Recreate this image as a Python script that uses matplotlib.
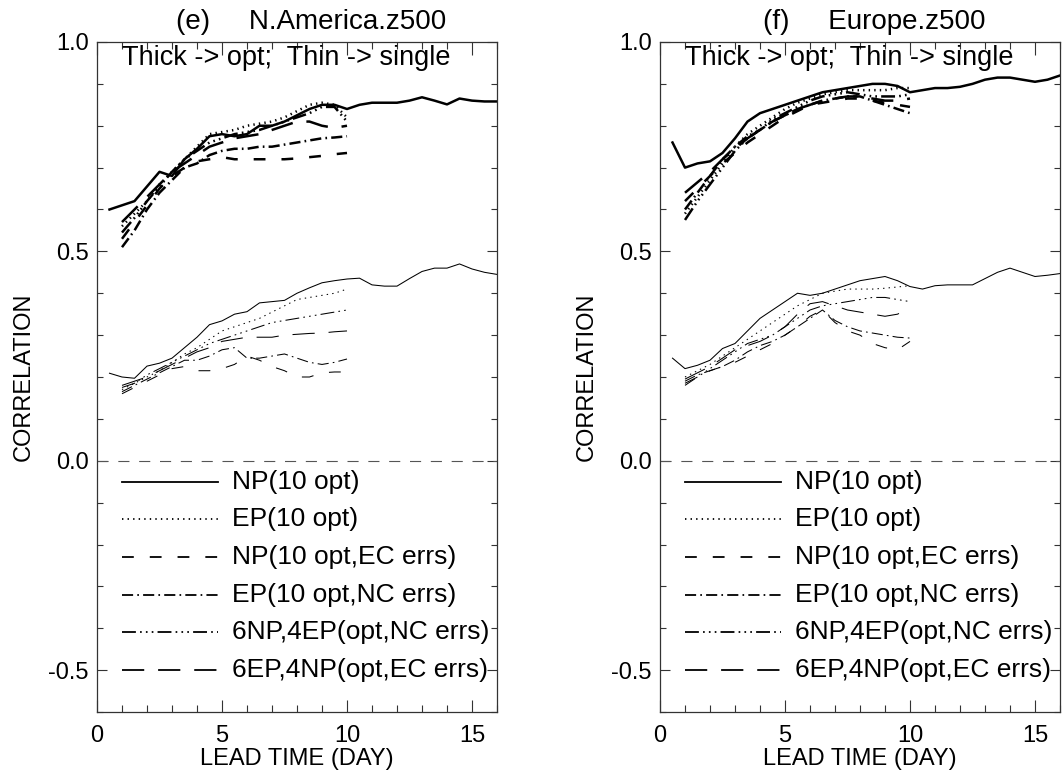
import numpy as np
import matplotlib
matplotlib.use("Agg")
import matplotlib.pyplot as plt
from matplotlib.ticker import MultipleLocator

plt.rcParams['font.family'] = ['Liberation Sans', 'DejaVu Sans']
plt.rcParams['lines.scale_dashes'] = False

# ---------------- data ----------------
lead_full = np.arange(0.5, 16.01, 0.5)     # single-member NP curves (0.5 .. 16 days)
lead_short = np.arange(1.0, 10.01, 0.5)    # other experiments (1 .. 10 days)

labels = ["NP(10 opt)", "EP(10 opt)", "NP(10 opt,EC errs)", "EP(10 opt,NC errs)",
          "6NP,4EP(opt,NC errs)", "6EP,4NP(opt,EC errs)"]

# N. America
na_np_thick = [0.60, 0.61, 0.62, 0.655, 0.69, 0.68, 0.72, 0.745, 0.775, 0.78, 0.775, 0.78,
               0.80, 0.80, 0.81, 0.825, 0.84, 0.85, 0.85, 0.84, 0.85, 0.855, 0.855, 0.855,
               0.86, 0.868, 0.86, 0.851, 0.865, 0.86, 0.858, 0.858]
na_np_thin = [0.209, 0.20, 0.197, 0.226, 0.233, 0.245, 0.27, 0.295, 0.325, 0.334, 0.35, 0.356,
              0.377, 0.38, 0.383, 0.40, 0.413, 0.425, 0.43, 0.434, 0.436, 0.42, 0.417, 0.417,
              0.435, 0.452, 0.46, 0.46, 0.47, 0.458, 0.45, 0.445]
na_thick = [
    [0.56, 0.59, 0.62, 0.66, 0.69, 0.72, 0.75, 0.78, 0.785, 0.79, 0.80, 0.805, 0.81, 0.82, 0.835, 0.85, 0.855, 0.85, 0.82],
    [0.53, 0.57, 0.61, 0.65, 0.68, 0.70, 0.715, 0.72, 0.725, 0.72, 0.72, 0.72, 0.72, 0.72, 0.722, 0.725, 0.728, 0.732, 0.735],
    [0.51, 0.55, 0.60, 0.64, 0.67, 0.70, 0.71, 0.73, 0.74, 0.745, 0.745, 0.75, 0.75, 0.755, 0.76, 0.765, 0.77, 0.772, 0.775],
    [0.545, 0.58, 0.62, 0.655, 0.69, 0.72, 0.74, 0.76, 0.77, 0.78, 0.785, 0.79, 0.80, 0.81, 0.82, 0.83, 0.845, 0.845, 0.81],
    [0.57, 0.60, 0.63, 0.66, 0.69, 0.71, 0.73, 0.75, 0.76, 0.77, 0.775, 0.78, 0.79, 0.80, 0.81, 0.81, 0.80, 0.795, 0.80],
]
na_thin = [
    [0.17, 0.185, 0.20, 0.215, 0.235, 0.255, 0.27, 0.29, 0.31, 0.32, 0.33, 0.34, 0.355, 0.37, 0.385, 0.39, 0.395, 0.40, 0.41],
    [0.16, 0.175, 0.19, 0.205, 0.22, 0.225, 0.215, 0.215, 0.22, 0.23, 0.25, 0.24, 0.225, 0.215, 0.20, 0.20, 0.21, 0.212, 0.212],
    [0.165, 0.18, 0.195, 0.21, 0.225, 0.24, 0.24, 0.25, 0.265, 0.27, 0.245, 0.245, 0.25, 0.255, 0.245, 0.235, 0.23, 0.235, 0.243],
    [0.175, 0.185, 0.205, 0.22, 0.235, 0.25, 0.265, 0.28, 0.29, 0.30, 0.31, 0.32, 0.33, 0.335, 0.34, 0.345, 0.35, 0.355, 0.36],
    [0.18, 0.19, 0.20, 0.215, 0.23, 0.245, 0.26, 0.27, 0.285, 0.29, 0.295, 0.295, 0.295, 0.30, 0.302, 0.304, 0.305, 0.308, 0.31],
]

# Europe
eu_np_thick = [0.76, 0.70, 0.71, 0.715, 0.735, 0.77, 0.81, 0.83, 0.84, 0.85, 0.86, 0.87,
               0.88, 0.885, 0.89, 0.895, 0.90, 0.90, 0.895, 0.88, 0.885, 0.89, 0.89, 0.893,
               0.90, 0.91, 0.915, 0.915, 0.91, 0.905, 0.91, 0.92]
eu_np_thin = [0.245, 0.22, 0.228, 0.24, 0.268, 0.28, 0.31, 0.34, 0.36, 0.38, 0.40, 0.395,
              0.40, 0.41, 0.42, 0.43, 0.435, 0.44, 0.43, 0.416, 0.41, 0.418, 0.42, 0.42,
              0.42, 0.435, 0.45, 0.46, 0.45, 0.44, 0.443, 0.447]
eu_thick = [
    [0.59, 0.63, 0.67, 0.71, 0.75, 0.78, 0.80, 0.82, 0.84, 0.855, 0.865, 0.875, 0.88, 0.885, 0.885, 0.885, 0.885, 0.89, 0.89],
    [0.62, 0.65, 0.68, 0.71, 0.735, 0.76, 0.78, 0.80, 0.82, 0.835, 0.85, 0.855, 0.86, 0.865, 0.865, 0.86, 0.855, 0.85, 0.845],
    [0.60, 0.64, 0.68, 0.72, 0.75, 0.775, 0.79, 0.81, 0.825, 0.84, 0.85, 0.86, 0.865, 0.87, 0.87, 0.86, 0.85, 0.84, 0.83],
    [0.575, 0.62, 0.66, 0.70, 0.74, 0.77, 0.79, 0.815, 0.83, 0.845, 0.86, 0.87, 0.875, 0.88, 0.875, 0.87, 0.87, 0.87, 0.875],
    [0.64, 0.665, 0.69, 0.72, 0.745, 0.77, 0.79, 0.81, 0.825, 0.84, 0.85, 0.86, 0.865, 0.87, 0.87, 0.865, 0.86, 0.86, 0.865],
]
eu_thin = [
    [0.20, 0.215, 0.23, 0.25, 0.27, 0.29, 0.31, 0.33, 0.35, 0.37, 0.385, 0.40, 0.405, 0.41, 0.41, 0.41, 0.412, 0.415, 0.418],
    [0.18, 0.20, 0.215, 0.225, 0.235, 0.25, 0.265, 0.28, 0.30, 0.32, 0.345, 0.36, 0.33, 0.31, 0.30, 0.28, 0.27, 0.265, 0.285],
    [0.19, 0.205, 0.215, 0.225, 0.24, 0.26, 0.275, 0.285, 0.30, 0.32, 0.34, 0.36, 0.335, 0.32, 0.31, 0.305, 0.30, 0.295, 0.293],
    [0.185, 0.20, 0.22, 0.24, 0.26, 0.28, 0.29, 0.30, 0.32, 0.34, 0.36, 0.37, 0.375, 0.38, 0.385, 0.39, 0.39, 0.385, 0.38],
    [0.195, 0.21, 0.225, 0.245, 0.265, 0.275, 0.285, 0.30, 0.32, 0.35, 0.375, 0.38, 0.37, 0.36, 0.355, 0.35, 0.345, 0.35, 0.365],
]

# ---------------- styles ----------------
styles = [
    '-',
    (0, (1.0, 3.0)),
    (0, (8.5, 11.5)),
    (0, (8.0, 3.0, 1.2, 3.0)),
    (0, (10.0, 3.0, 1.2, 3.0, 1.2, 3.0, 1.2, 3.0)),
    (0, (16.0, 10.0)),
]
LW_THICK = 1.8
LW_THIN = 0.75

fig = plt.figure(figsize=(10.64, 7.76), dpi=100)
W, H = 1064.0, 776.0
ax_l = fig.add_axes([97 / W, (H - 712) / H, 400 / W, 670 / H])
ax_r = fig.add_axes([660 / W, (H - 712) / H, 400 / W, 670 / H])

panels = [
    (ax_l, "(e)     N.America.z500", na_np_thick, na_np_thin, na_thick, na_thin),
    (ax_r, "(f)     Europe.z500", eu_np_thick, eu_np_thin, eu_thick, eu_thin),
]

FS_LEG = 19
FS_TXT = 19.5
FS_TICK = 17
FS_LAB = 17
FS_TITLE = 20
for ax, title, npk, npn, thk, thn in panels:
    ax.plot(lead_full, npk, color='black', lw=LW_THICK, ls=styles[0])
    ax.plot(lead_full, npn, color='black', lw=LW_THIN, ls=styles[0])
    for i in range(5):
        ax.plot(lead_short, thk[i], color='black', lw=LW_THICK, ls=styles[i + 1])
        ax.plot(lead_short, thn[i], color='black', lw=LW_THIN, ls=styles[i + 1])

    ax.axhline(0.0, color='#555555', lw=0.8, ls=(0, (8, 7)))

    # legend (manual, IDL style)
    ys = [-0.05, -0.14, -0.23, -0.32, -0.41, -0.50]
    for i, (yy, lab) in enumerate(zip(ys, labels)):
        ax.plot([1.0, 4.85], [yy, yy], color='black', lw=1.3, ls=styles[i])
        ax.text(5.4, yy, lab, fontsize=FS_LEG, va='center', ha='left')

    ax.text(1.0, 0.962, "Thick -> opt;  Thin -> single", fontsize=FS_TXT, va='center', ha='left')

    ax.set_xlim(0, 16)
    ax.set_ylim(-0.6, 1.0)
    ax.xaxis.set_major_locator(MultipleLocator(5))
    ax.xaxis.set_minor_locator(MultipleLocator(1))
    ax.yaxis.set_major_locator(MultipleLocator(0.5))
    ax.yaxis.set_minor_locator(MultipleLocator(0.1))
    ax.set_yticks([-0.5, 0.0, 0.5, 1.0])
    ax.set_yticklabels(['-0.5', '0.0', '0.5', '1.0'])
    ax.tick_params(axis='both', which='both', direction='in', top=True, right=True,
                   labelsize=FS_TICK, width=0.8, color='#333333')
    ax.tick_params(axis='x', which='major', length=9, pad=9)
    ax.tick_params(axis='x', which='minor', length=5)
    ax.tick_params(axis='y', which='major', length=7, pad=6)
    ax.tick_params(axis='y', which='minor', length=4)
    for sp in ax.spines.values():
        sp.set_linewidth(0.9)
        sp.set_color('#333333')
    ax.set_xlabel("LEAD TIME (DAY)", fontsize=FS_LAB, labelpad=1)
    ax.set_ylabel("CORRELATION", fontsize=FS_LAB, labelpad=10)
    ax.set_title(title, fontsize=FS_TITLE, pad=9, x=0.535)

fig.savefig("out.png", dpi=100)
